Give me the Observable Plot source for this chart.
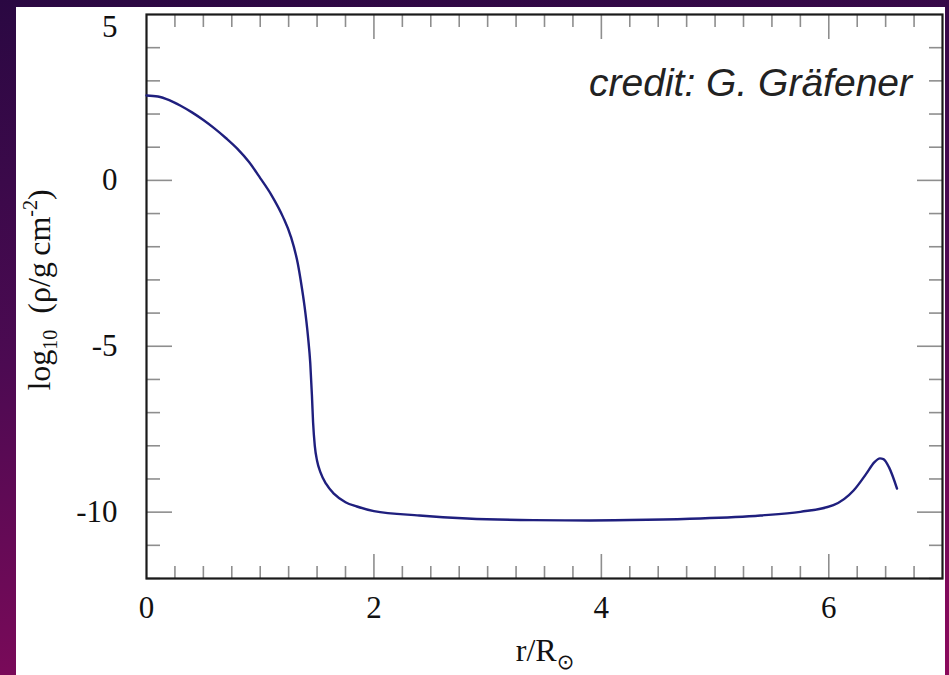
<!DOCTYPE html>
<html><head><meta charset="utf-8">
<script src="https://cdn.jsdelivr.net/npm/d3@7"></script>
<script src="https://cdn.jsdelivr.net/npm/@observablehq/plot@0.6"></script>
<style>
html,body{margin:0;padding:0;width:949px;height:675px;overflow:hidden;}
body{background:linear-gradient(172deg,#2a0842 0%,#4c0a52 45%,#8c0a5c 100%);position:relative;}
#panel{position:absolute;left:16px;top:7px;width:929px;height:668px;background:#fff;}
#chart{position:absolute;left:0;top:0;}
</style></head><body><div id="panel"></div><div id="chart"></div>
<script>
// r / R_sun
const radius = [0, 0.1, 0.2, 0.3, 0.4, 0.5, 0.6, 0.7, 0.8, 0.9, 1.0, 1.1, 1.2, 1.27, 1.33, 1.36, 1.39, 1.42, 1.44, 1.455, 1.465, 1.48, 1.50, 1.53, 1.58, 1.65, 1.75, 1.85, 2.0, 2.4, 2.82, 3.4, 3.9, 4.4, 4.87, 5.4, 5.75, 6.04, 6.22, 6.33, 6.40, 6.45, 6.48, 6.53, 6.60];
// log10 (rho / g cm^-2)
const logRho = [2.56, 2.53, 2.42, 2.25, 2.05, 1.82, 1.56, 1.27, 0.95, 0.56, 0.07, -0.45, -1.1, -1.7, -2.5, -3.1, -3.8, -4.7, -5.5, -6.5, -7.3, -8.0, -8.45, -8.8, -9.15, -9.45, -9.7, -9.83, -9.97, -10.1, -10.19, -10.24, -10.25, -10.23, -10.19, -10.1, -9.99, -9.79, -9.34, -8.84, -8.5, -8.38, -8.4, -8.65, -9.29];

const xMajor = [0, 2, 4, 6];
const xMinor = [0.25,0.5,0.75,1,1.25,1.5,1.75,2.25,2.5,2.75,3,3.25,3.5,3.75,4.25,4.5,4.75,5,5.25,5.5,5.75,6.25,6.5,6.75];
const yMajor = [-10, -5, 0, 5];
const yMinor = [-12,-11,-9,-8,-7,-6,-4,-3,-2,-1,1,2,3,4];
const xLabel = "r/R";
const xLabelSub = "\u2299";
const credit = "credit: G. Gr\u00e4fener";

const data = radius.map((r, i) => ({r, v: logRho[i]}));
const fmt = d => String(d);
const tk = {stroke: "#8e8e8e", strokeWidth: 1.6, tickFormat: () => "", label: null};

const chart = Plot.plot({
  width: 949, height: 675,
  marginLeft: 146, marginRight: 7, marginTop: 14, marginBottom: 97,
  style: {background: "transparent", fontFamily: "'Liberation Serif', serif", fontSize: "31px", color: "#111"},
  x: {domain: [0, 7]},
  y: {domain: [-12, 5]},
  marks: [
    Plot.axisX({...tk, anchor: "bottom", ticks: xMinor, tickSize: -12}),
    Plot.axisX({...tk, anchor: "bottom", ticks: xMajor.slice(1), tickSize: -24}),
    Plot.axisX({...tk, anchor: "top", ticks: xMinor, tickSize: -12}),
    Plot.axisX({...tk, anchor: "top", ticks: xMajor.slice(1), tickSize: -24}),
    Plot.axisY({...tk, anchor: "left", ticks: yMinor, tickSize: -14}),
    Plot.axisY({...tk, anchor: "left", ticks: yMajor.slice(0, 3), tickSize: -26}),
    Plot.axisY({...tk, anchor: "right", ticks: yMinor, tickSize: -14}),
    Plot.axisY({...tk, anchor: "right", ticks: yMajor.slice(0, 3), tickSize: -26}),
    Plot.axisX({anchor: "bottom", ticks: xMajor, tickSize: 0, tickPadding: 17, tickFormat: fmt, label: null, fill: "#111"}),
    Plot.axisY({anchor: "left", ticks: yMajor.slice(0, 3), tickSize: 0, tickPadding: 29, tickFormat: fmt, label: null, fill: "#111"}),
    Plot.axisY({anchor: "left", ticks: yMajor.slice(3), tickSize: 0, tickPadding: 29, tickFormat: fmt, label: null, fill: "#111", dy: 13}),
    Plot.frame({stroke: "#1a1a1a", strokeWidth: 2.2}),
    Plot.line(data, {x: "r", y: "v", stroke: "#1f1f7e", strokeWidth: 2.4, curve: "monotone-x"})
  ]
});
document.getElementById("chart").appendChild(chart);

const svg = d3.select(chart);
// y-axis title
const yt = svg.append("text")
  .attr("transform", "translate(50,290) rotate(-90)")
  .attr("text-anchor", "middle")
  .attr("font-family", "'Liberation Serif', serif")
  .attr("font-size", 32).attr("fill", "#111");
yt.append("tspan").text("log");
yt.append("tspan").attr("font-size", 20).attr("dy", 7).text("10");
yt.append("tspan").attr("dy", -7).text("\u00a0\u00a0(\u03c1/g\u2009cm");
yt.append("tspan").attr("font-size", 20).attr("dy", -13).text("-2");
yt.append("tspan").attr("dy", 13).text(")");
// x-axis title
const xt = svg.append("text")
  .attr("x", 545).attr("y", 661)
  .attr("text-anchor", "middle")
  .attr("font-family", "'Liberation Serif', serif")
  .attr("font-size", 32).attr("fill", "#111");
xt.append("tspan").text(xLabel);
xt.append("tspan").attr("font-size", 21).attr("dy", 8).attr("font-family", "'DejaVu Sans', sans-serif").text(xLabelSub);
// credit
svg.append("text")
  .attr("x", 912).attr("y", 96)
  .attr("text-anchor", "end")
  .attr("font-family", "'Liberation Sans', Arial, sans-serif")
  .attr("font-style", "italic")
  .attr("font-size", 39).attr("fill", "#222")
  .text(credit);
</script></body></html>
